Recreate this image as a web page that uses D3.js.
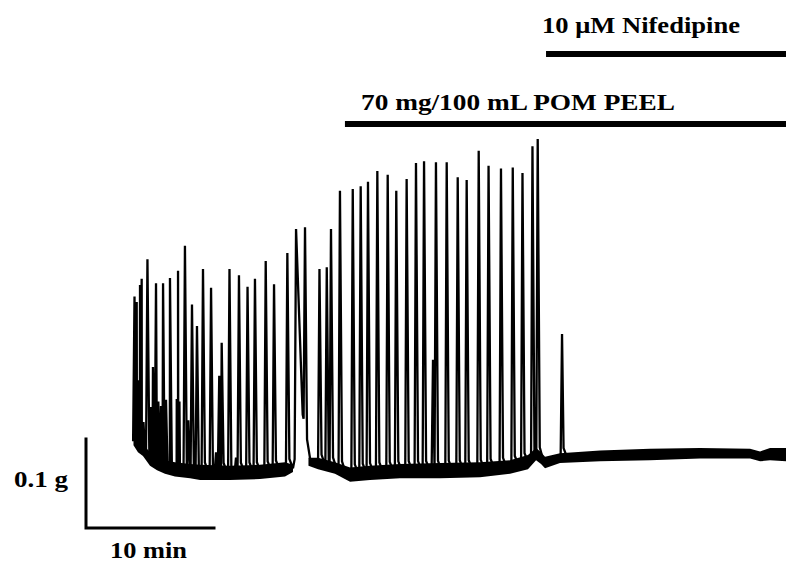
<!DOCTYPE html>
<html>
<head>
<meta charset="utf-8">
<script src="https://cdn.jsdelivr.net/npm/d3@7"></script>
<style>
  html, body { margin: 0; padding: 0; background: #fff; }
  svg { display: block; }
  text { font-family: "Liberation Serif", "Times New Roman", serif; font-weight: bold; fill: #000; }
</style>
</head>
<body>
<svg id="chart" width="786" height="564"></svg>
<script>
// ---------- DATA (time in minutes, force in grams) ----------
// Contraction peaks: time of peak and peak force
const spikeT = [
  3.79, 3.96, 4.09, 4.22, 4.35, 4.49, 4.80, 5.08, 5.23, 5.47, 5.65, 5.86,
  6.02, 6.25, 6.56, 6.66, 7.09, 7.19, 7.30, 7.73, 7.99, 8.28, 8.67, 9.14,
  9.77, 10.16, 10.41, 10.60, 11.21, 11.72, 11.95, 12.62, 13.20, 14.04, 14.69, 15.73,
  16.41, 17.11, 18.24, 18.81, 19.14, 19.84, 20.84, 21.46, 22.03, 22.76, 23.57, 24.24,
  25.05, 25.78, 26.41, 27.11, 27.34, 28.18, 29.04, 29.74, 30.68, 31.45, 32.42, 33.34,
  34.10, 34.88, 35.29, 37.19
];
const spikePeak = [
  0.260, 0.254, 0.166, 0.273, 0.280, 0.119, 0.302, 0.136, 0.181, 0.275, 0.142, 0.137,
  0.275, 0.144, 0.281, 0.135, 0.145, 0.289, 0.142, 0.317, 0.121, 0.251, 0.227, 0.291,
  0.270, 0.085, 0.171, 0.208, 0.291, 0.079, 0.284, 0.271, 0.280, 0.300, 0.274, 0.309,
  0.336, 0.338, 0.291, 0.293, 0.336, 0.379, 0.381, 0.384, 0.389, 0.401, 0.397, 0.379,
  0.392, 0.410, 0.412, 0.189, 0.411, 0.411, 0.394, 0.391, 0.424, 0.407, 0.404, 0.405,
  0.399, 0.429, 0.437, 0.218
];
// Relaxation time after each peak (minutes)
const spikeFall = [
  0.14, 0.14, 0.12, 0.14, 0.14, 0.12, 0.15, 0.12, 0.14, 0.15, 0.12, 0.12,
  0.15, 0.12, 0.15, 0.12, 0.12, 0.15, 0.12, 0.15, 0.12, 0.15, 0.15, 0.15,
  0.15, 0.12, 0.14, 0.15, 0.15, 0.12, 0.15, 0.15, 0.15, 0.15, 0.15, 0.16,
  0.52, 0.16, 0.16, 0.16, 0.16, 0.16, 0.16, 0.16, 0.16, 0.16, 0.16, 0.16,
  0.16, 0.16, 0.16, 0.12, 0.16, 0.16, 0.16, 0.16, 0.16, 0.16, 0.16, 0.16,
  0.16, 0.16, 0.16, 0.12
];
// Resting tension envelope (upper / lower edge of the noisy baseline)
const baseT  = [3.71, 4.06, 4.45, 5.00, 5.55, 6.17, 6.95, 8.13, 8.91, 11.25, 13.59, 15.55,
                16.17, 16.95, 17.38, 18.13, 19.45, 20.63, 22.19, 24.53, 27.66, 30.78, 33.13, 34.53,
                35.16, 35.55, 35.86, 37.03, 40.16, 44.06, 47.97, 51.88, 52.66, 53.44, 54.69];
const baseHi = [0.102, 0.099, 0.094, 0.085, 0.079, 0.076, 0.074, 0.072, 0.071, 0.070, 0.071, 0.074,
                0.071, 0.129, 0.079, 0.079, 0.074, 0.068, 0.070, 0.072, 0.073, 0.074, 0.076, 0.082,
                0.090, 0.085, 0.080, 0.084, 0.087, 0.089, 0.090, 0.089, 0.086, 0.090, 0.090];
const baseLo = [0.093, 0.085, 0.081, 0.070, 0.065, 0.061, 0.058, 0.056, 0.054, 0.054, 0.055, 0.058,
                0.063, 0.129, 0.070, 0.066, 0.061, 0.052, 0.054, 0.056, 0.056, 0.057, 0.061, 0.066,
                0.076, 0.072, 0.067, 0.073, 0.075, 0.076, 0.078, 0.078, 0.075, 0.076, 0.075];
// Treatment annotations
const treatLabels = ["70 mg/100 mL POM PEEL", "10 \u03bcM Nifedipine"];
const treatStart  = [20.23, 35.94];
const treatEnd    = [54.70, 54.70];
// Scale bar
const scaleBarTime  = 10;   // min
const scaleBarForce = 0.1;  // g
const scaleLabels = ["0.1 g", "10 min"];

// ---------- SCALES ----------
const svg = d3.select("#chart");
const x = d3.scaleLinear().domain([0, 55]).range([86, 790]);
const y = d3.scaleLinear().domain([0, 0.45]).range([528, 127.5]);

const baseCenter = baseT.map((t, i) => (baseHi[i] + baseLo[i]) / 2);
const baseAt = d3.scaleLinear().domain(baseT).range(baseCenter).clamp(true);

// ---------- BASELINE NOISE BAND ----------
const band = baseT.map((t, i) => ({ t, hi: baseHi[i], lo: baseLo[i] }));
svg.append("path")
  .datum(band)
  .attr("d", d3.area()
    .defined(d => d.hi - d.lo > 0.001)
    .x(d => x(d.t)).y0(d => y(d.lo)).y1(d => y(d.hi)))
  .attr("fill", "#000");

// ---------- TRACE ----------
const rise = 0.11;
const shoulder = 0.011, settle = 0.28;
const spikes = spikeT.map((t, i) => ({ t, peak: spikePeak[i], t0: t - rise, t2: t + spikeFall[i] }));
let pts = [];
spikes.forEach((s, i) => {
  pts.push({ t: s.t0, v: baseAt(s.t0) });
  pts.push({ t: s.t, v: s.peak });
  const next = spikes[i + 1];
  const free = !next || next.t0 > s.t2 + settle;
  if (free && spikeFall[i] < 0.3) {
    pts.push({ t: s.t2, v: baseAt(s.t2) + shoulder });
    pts.push({ t: s.t2 + settle, v: baseAt(s.t2 + settle) });
  } else {
    pts.push({ t: s.t2, v: baseAt(s.t2) });
  }
});
baseT.forEach((t, i) => {
  const inside = spikes.some(s => t > s.t0 && t < s.t2 + settle);
  if (!inside) pts.push({ t, v: baseCenter[i] });
});
pts.sort((a, b) => a.t - b.t);

svg.append("path")
  .datum(pts)
  .attr("d", d3.line().x(d => x(d.t)).y(d => y(d.v)))
  .attr("fill", "none")
  .attr("stroke", "#000")
  .attr("stroke-width", 2.3)
  .attr("stroke-linejoin", "miter")
  .attr("stroke-miterlimit", 2);

// ---------- TREATMENT BARS ----------
const barY = [124, 54];
const labelY = [110, 33];
const labelX = [361, 542];
const labelLen = [314, 198];
treatLabels.forEach((lab, i) => {
  svg.append("line")
    .attr("x1", x(treatStart[i])).attr("x2", x(treatEnd[i]))
    .attr("y1", barY[i]).attr("y2", barY[i])
    .attr("stroke", "#000").attr("stroke-width", 6);
  svg.append("text")
    .attr("x", labelX[i]).attr("y", labelY[i])
    .attr("font-size", 23)
    .attr("textLength", labelLen[i])
    .attr("lengthAdjust", "spacingAndGlyphs")
    .text(lab);
});

// ---------- SCALE BAR ----------
svg.append("path")
  .attr("d", d3.line()([[x(0), y(scaleBarForce)], [x(0), y(0)], [x(scaleBarTime), y(0)]]))
  .attr("fill", "none").attr("stroke", "#000").attr("stroke-width", 3)
  .attr("stroke-linecap", "square");
svg.append("text")
  .attr("x", 14).attr("y", 487).attr("font-size", 23)
  .attr("textLength", 54).attr("lengthAdjust", "spacingAndGlyphs")
  .text(scaleLabels[0]);
svg.append("text")
  .attr("x", 110).attr("y", 558).attr("font-size", 23)
  .attr("textLength", 77).attr("lengthAdjust", "spacingAndGlyphs")
  .text(scaleLabels[1]);
</script>
</body>
</html>
